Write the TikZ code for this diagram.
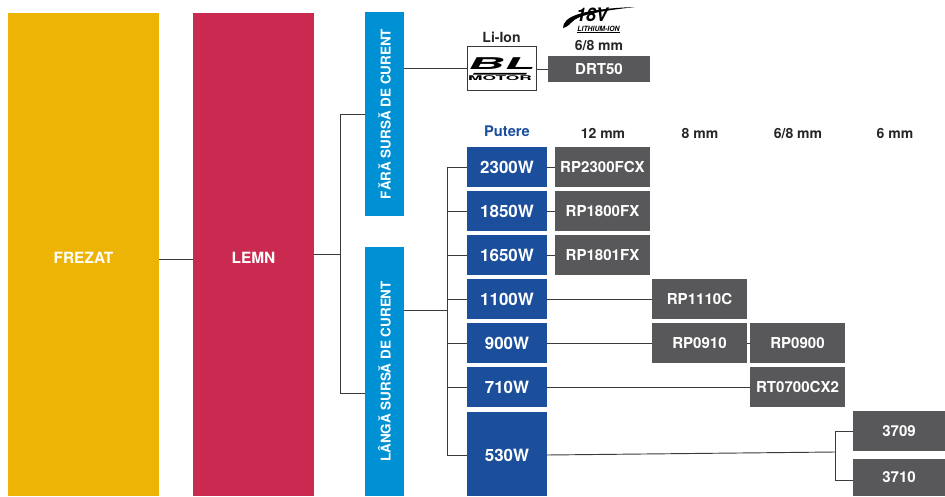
\documentclass[tikz,border=0pt]{standalone}
\usepackage{fontspec}
\setmainfont{TeX Gyre Heros}
\definecolor{cfrez}{HTML}{EDB406}
\definecolor{clemn}{HTML}{CB2A50}
\definecolor{cblue}{HTML}{0090D4}
\definecolor{cpow}{HTML}{1B4F9C}
\definecolor{cgray}{HTML}{58585A}
\definecolor{cline}{HTML}{3A3A3A}
\tikzset{
  x=0.75pt,y=-0.75pt,
  box/.style={anchor=north west,inner sep=0pt,outer sep=0pt,text=white,align=center},
  bigbox/.style={box,font=\bfseries\fontsize{11.6}{13}\selectfont},
  sidebox/.style={box,fill=cblue,minimum width=29.25pt,font=\bfseries\fontsize{10.1}{12}\selectfont},
  powbox/.style={box,fill=cpow,minimum width=60pt,font=\bfseries\fontsize{12.7}{15}\selectfont},
  graybox/.style={box,fill=cgray,font=\bfseries\fontsize{11.3}{13}\selectfont},
  head/.style={inner sep=0pt,font=\bfseries\fontsize{10.5}{12}\selectfont,text=black!85},
  conn/.style={draw=cline,line width=0.7pt},
}
\newcommand{\lowertext}[2]{\raisebox{-#1}[0pt][0pt]{#2}}
\begin{document}
\begin{tikzpicture}
\useasboundingbox (0,0) rectangle (945,496);
% big columns
\node[bigbox,fill=cfrez,minimum width=113.25pt,minimum height=362.25pt] (frez) at (8,13) {\lowertext{7pt}{FREZAT}};
\node[bigbox,fill=clemn,minimum width=90.75pt,minimum height=362.25pt] (lemn) at (193,13) {\lowertext{7pt}{LEMN}};
% side boxes
\node[sidebox,minimum height=153pt] (fara) at (365,12) {\rotatebox{90}{FĂRĂ SURSĂ DE CURENT}};
\node[sidebox,minimum height=186.75pt] (langa) at (365,247) {\rotatebox{90}{LÂNGĂ SURSĂ DE CURENT}};
% power boxes
\node[powbox,minimum height=30pt] (p1) at (467,147) {2300W};
\node[powbox,minimum height=30pt] (p2) at (467,191) {1850W};
\node[powbox,minimum height=30pt] (p3) at (467,235) {1650W};
\node[powbox,minimum height=30pt] (p4) at (467,279) {1100W};
\node[powbox,minimum height=30pt] (p5) at (467,323) {900W};
\node[powbox,minimum height=30pt] (p6) at (467,367) {710W};
\node[powbox,minimum height=63pt] (p7) at (467,412) {\lowertext{5.25pt}{530W}};
% gray boxes
\node[graybox,minimum width=71.25pt,minimum height=30pt] (g1) at (555,147) {RP2300FCX};
\node[graybox,minimum width=71.25pt,minimum height=30pt] (g2) at (555,191) {RP1800FX};
\node[graybox,minimum width=71.25pt,minimum height=30pt] (g3) at (555,235) {RP1801FX};
\node[graybox,minimum width=71.25pt,minimum height=30pt] (g4) at (652,279) {RP1110C};
\node[graybox,minimum width=71.25pt,minimum height=30pt] (g5) at (652,323) {RP0910};
\node[graybox,minimum width=71.25pt,minimum height=30pt] (g6) at (750,323) {RP0900};
\node[graybox,minimum width=71.25pt,minimum height=30pt] (g7) at (750,367) {RT0700CX2};
\node[graybox,minimum width=69pt,minimum height=30pt] (g8) at (853,411) {3709};
\node[graybox,minimum width=69pt,minimum height=27.75pt] (g9) at (853,459) {3710};
\node[graybox,minimum width=76.5pt,minimum height=19.5pt] (drt) at (548,56) {DRT50};
% BL box
\node[box,draw=cline,line width=0.6pt,fill=white,minimum width=51.75pt,minimum height=33pt] (bl) at (467,46) {};
% headers
\node[head] (liion) at (501.5,37.5) {Li-Ion};
\node[head] (h0) at (599,45.5) {6/8 mm};
\node[head,text=cpow,font=\bfseries\fontsize{11}{13}\selectfont] (hp) at (507,131.5) {Putere};
\node[head] (h12) at (603,133.5) {12 mm};
\node[head] (h8) at (700,133.5) {8 mm};
\node[head] (h68) at (798,133.5) {6/8 mm};
\node[head] (h6) at (895,133.5) {6 mm};
% BL logo
\fill[black] (473,74.5) -- (526,74.5) -- (527,72.8) -- (474,72.8) -- cycle;
\node[inner sep=0pt,text=black,font=\bfseries\fontsize{21}{21}\selectfont,xslant=0.55,yscale=0.58,xscale=1.8,transform shape] (bltext) at (503,64) {BL};
\node[inner sep=0pt,text=black,font=\bfseries\fontsize{6.5}{7}\selectfont,xscale=2,yscale=0.75,transform shape] (motor) at (500,78.5) {MOTOR};
% 18V logo
\fill[black] (563,28) .. controls (563,17) and (580,9) .. (635,7) .. controls (600,11) and (578,15) .. (572,22) .. controls (569,25) and (567,27) .. (563,28) -- cycle;
\node[inner sep=0pt,text=black,font=\bfseries\itshape\fontsize{14}{14}\selectfont,xscale=0.95,transform shape] (v18) at (592,14.5) {18V};
\node[inner sep=0pt,text=black,font=\bfseries\itshape\fontsize{5.4}{6}\selectfont,xscale=0.95,transform shape] (lith) at (598.5,29) {LITHIUM-ION};
\draw[black,line width=0.5pt] (lith.south west) -- (lith.south east);
% connectors
\coordinate (t1) at (340,254);
\coordinate (t1a) at (340,114);
\coordinate (t1b) at (340,393);
\coordinate (t2) at (447,310);
\coordinate (t2a) at (447,167);
\coordinate (t2b) at (447,455);
\coordinate (t3) at (835,452);
\coordinate (t3a) at (835,431);
\coordinate (t3b) at (835,480);
\draw[conn] (frez.east |- 0,259) -- (lemn.west |- 0,259);
\draw[conn] (lemn.east |- t1) -- (t1);
\draw[conn] (fara.west |- t1a) -- (t1a) -- (t1b) -- (langa.west |- t1b);
\draw[conn] (langa.east |- t2) -- (t2);
\draw[conn] (p1.west |- t2a) -- (t2a) -- (t2b) -- (p7.west |- t2b);
\foreach \n/\y in {p2/211,p3/255,p4/299,p5/343,p6/387}
  \draw[conn] (\n.west |- 0,\y) -- (447,\y);
\draw[conn] (p4.east) -- (g4.west);
\draw[conn] (p5.east) -- (g5.west);
\draw[conn] (g5.east) -- (g6.west);
\draw[conn] (p6.east) -- (g7.west);
\draw[conn] (p1.east) -- (g1.west);
\draw[conn] (p2.east) -- (g2.west);
\draw[conn] (p3.east) -- (g3.west);
\draw[conn] (fara.east |- bl.west) -- (bl.west);
\draw[conn] (bl.east |- drt.west) -- (drt.west);
\draw[conn] (p7.east |- t2b) -- (t3);
\draw[conn] (g8.west) -- (t3a) -- (t3b) -- (g9.west |- t3b);
\end{tikzpicture}
\end{document}
